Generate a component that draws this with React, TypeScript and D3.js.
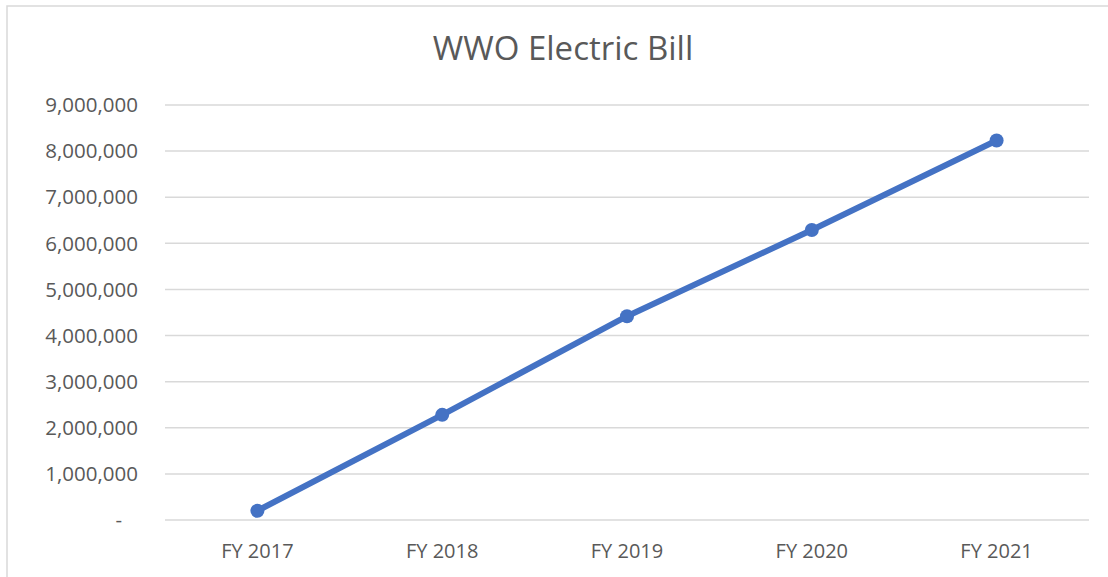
import React from "react";
import * as d3 from "d3";

const categories = ["FY 2017", "FY 2018", "FY 2019", "FY 2020", "FY 2021"];
const values = [200000, 2280000, 4420000, 6290000, 8230000];
const yTicks = [0, 1000000, 2000000, 3000000, 4000000, 5000000, 6000000, 7000000, 8000000, 9000000];
const title = "WWO Electric Bill";

const W = 1108;
const H = 577;
const font = "'Open Sans', 'Liberation Sans', sans-serif";
const textColor = "#595959";
const gridColor = "#d9d9d9";
const lineColor = "#4472C4";

export default function App() {
  const x = d3.scaleBand().domain(categories).range([165, 1089]);
  const y = d3.scaleLinear().domain([0, 9000000]).range([520, 105]);
  const fmt = d3.format(",");
  const line = d3
    .line<number>()
    .x((_, i) => (x(categories[i]) as number) + x.bandwidth() / 2)
    .y((d) => y(d));

  return (
    <svg
      width={W}
      height={H}
      style={{ position: "absolute", left: 0, top: 0, background: "#fff" }}
    >
      <rect x={7} y={6} width={W + 20} height={H + 20} fill="#fff" stroke={gridColor} strokeWidth={1.5} />
      <text x={563} y={60} textAnchor="middle" fontFamily={font} fontSize={33} fill={textColor}>
        {title}
      </text>
      {yTicks.map((t) => (
        <g key={t}>
          <line x1={165} x2={1089} y1={y(t)} y2={y(t)} stroke={gridColor} strokeWidth={1.5} />
          <text
            x={138}
            y={y(t)}
            dy="0.35em"
            textAnchor="end"
            fontFamily={font}
            fontSize={20.5}
            fill={textColor}
            style={{ whiteSpace: "pre" }}
          >
            {t === 0 ? "-   " : fmt(t)}
          </text>
        </g>
      ))}
      {categories.map((c) => (
        <text
          key={c}
          x={(x(c) as number) + x.bandwidth() / 2}
          y={558}
          textAnchor="middle"
          fontFamily={font}
          fontSize={20}
          fill={textColor}
        >
          {c}
        </text>
      ))}
      <path d={line(values) || ""} fill="none" stroke={lineColor} strokeWidth={6} strokeLinejoin="round" />
      {values.map((v, i) => (
        <circle
          key={i}
          cx={(x(categories[i]) as number) + x.bandwidth() / 2}
          cy={y(v)}
          r={7}
          fill={lineColor}
        />
      ))}
    </svg>
  );
}
